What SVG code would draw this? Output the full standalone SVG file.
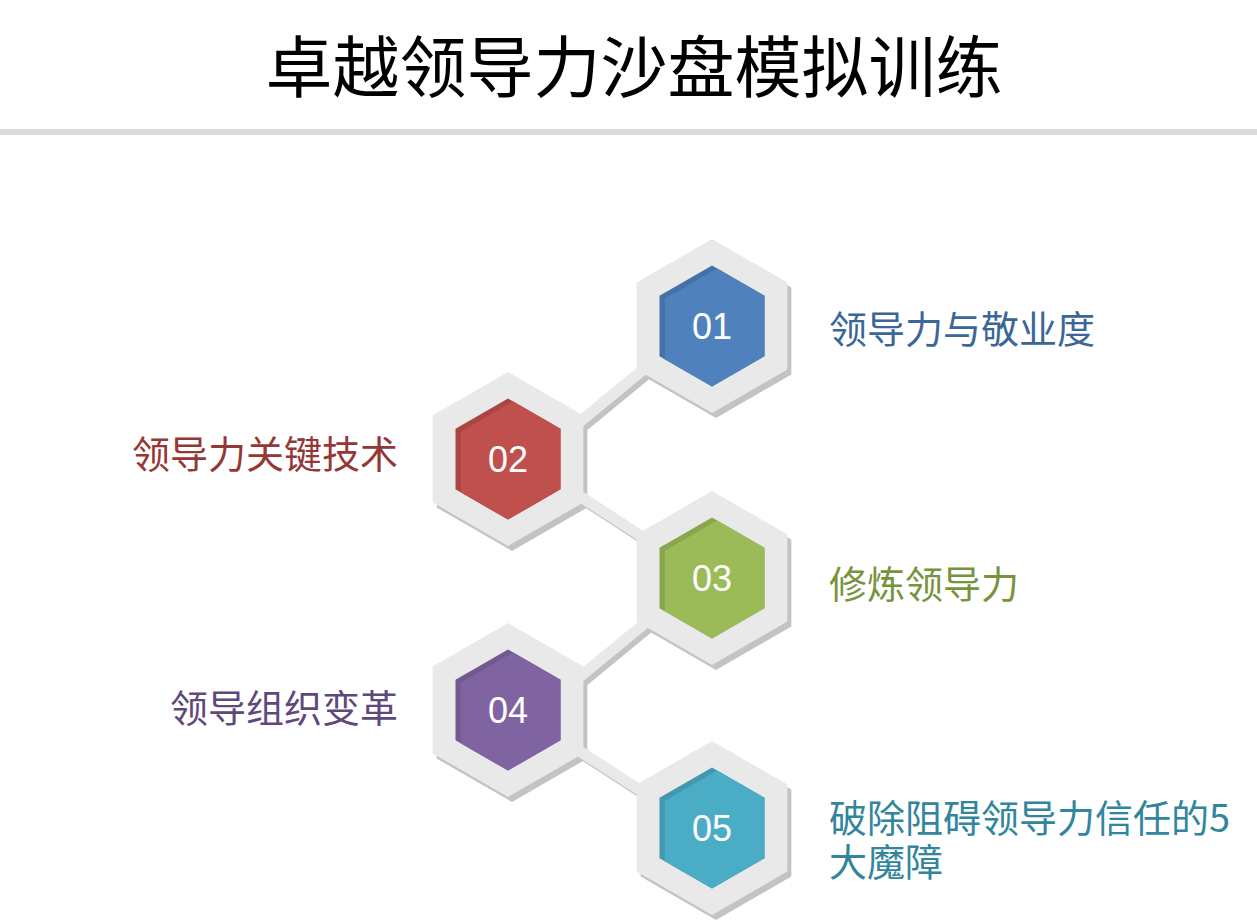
<svg xmlns="http://www.w3.org/2000/svg" width="1257" height="921" viewBox="0 0 1257 921">
<style>
.sh{fill:#c3c3c3}
.ring{fill:#e9e9e9}
.conn{fill:none;stroke:#e9e9e9;stroke-width:11;stroke-linejoin:miter}
.conn-sh{fill:none;stroke:#c3c3c3;stroke-width:11;stroke-linejoin:miter}
.num{font-family:"Liberation Sans",Arial,sans-serif;font-size:36px;fill:#ffffff;text-anchor:middle}
.lbl{font-family:"Noto Sans CJK SC","Noto Sans",sans-serif;font-size:38px}
.title{font-family:"Noto Sans CJK SC","Noto Sans",sans-serif;font-size:67px;fill:#000;text-anchor:middle}
</style>
<defs>
<polygon id="outer" points="0,-87 75.34,-43.5 75.34,43.5 0,87 -75.34,43.5 -75.34,-43.5"/>
<polygon id="inDark" points="0,-60.6 52.5,-30.3 52.5,30.3 0,60.6 -52.5,30.3 -52.5,-30.3"/>
<polygon id="inLight" points="5.25,-57.57 52.5,-30.3 52.5,30.3 0,60.6 -47.25,33.3 -47.25,-27.27"/>
</defs>
<rect x="0" y="0" width="1257" height="921" fill="#ffffff"/>
<g id="header">
<text class="title" x="634" y="92">卓越领导力沙盘模拟训练</text>
<rect x="0" y="129" width="1257" height="6" fill="#dadada"/>
</g>
<g id="hex-shadows">
<use href="#outer" class="sh" transform="translate(716,331)"/>
<use href="#outer" class="sh" transform="translate(512,464)"/>
<use href="#outer" class="sh" transform="translate(716,583)"/>
<use href="#outer" class="sh" transform="translate(512,715)"/>
<use href="#outer" class="sh" transform="translate(716,833)"/>
</g>
<g id="connectors">
<path class="conn-sh" d="M659,364 L581.5,427.8 L581.5,498.7 L659,549"/>
<path class="conn-sh" d="M659,619 L581.5,682.8 L581.5,753.7 L659,804"/>
<path class="conn" d="M655,360 L577.5,423.8 L577.5,494.7 L655,545"/>
<path class="conn" d="M655,615 L577.5,678.8 L577.5,749.7 L655,800"/>
</g>
<g id="node-01" transform="translate(712,326)">
<use href="#outer" class="ring"/>
<use href="#inDark" fill="#4671a8"/>
<use href="#inLight" fill="#4f81bd"/>
<text class="num" x="0" y="13">01</text>
</g>
<text id="label-01" class="lbl" x="829" y="343" fill="#3b6698">领导力与敬业度</text>
<g id="node-02" transform="translate(508,459)">
<use href="#outer" class="ring"/>
<use href="#inDark" fill="#a94644"/>
<use href="#inLight" fill="#c0504d"/>
<text class="num" x="0" y="13">02</text>
</g>
<text id="label-02" class="lbl" x="398" y="468" fill="#953735" text-anchor="end">领导力关键技术</text>
<g id="node-03" transform="translate(712,578)">
<use href="#outer" class="ring"/>
<use href="#inDark" fill="#89a64e"/>
<use href="#inLight" fill="#9bbb59"/>
<text class="num" x="0" y="13">03</text>
</g>
<text id="label-03" class="lbl" x="829" y="598" fill="#77933c">修炼领导力</text>
<g id="node-04" transform="translate(508,710)">
<use href="#outer" class="ring"/>
<use href="#inDark" fill="#72598f"/>
<use href="#inLight" fill="#8064a2"/>
<text class="num" x="0" y="13">04</text>
</g>
<text id="label-04" class="lbl" x="398" y="722" fill="#5f497a" text-anchor="end">领导组织变革</text>
<g id="node-05" transform="translate(712,828)">
<use href="#outer" class="ring"/>
<use href="#inDark" fill="#4398b0"/>
<use href="#inLight" fill="#4bacc6"/>
<text class="num" x="0" y="13">05</text>
</g>
<text id="label-05" class="lbl" fill="#31859c"><tspan x="829" y="832">破除阻碍领导力信任的5</tspan><tspan x="829" y="876">大魔障</tspan></text>
</svg>
